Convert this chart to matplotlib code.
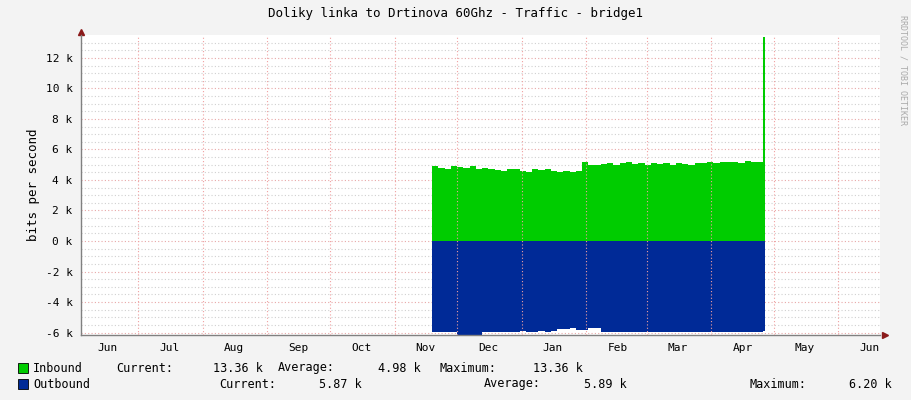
import matplotlib
matplotlib.use("Agg")
import matplotlib.pyplot as plt
import matplotlib.dates as mdates
import numpy as np
import pandas as pd

# ---- data (k bits/s), one sample every 3 days starting 2023-11-19 ----
start_date = "2023-11-19"
inbound = [4.9, 4.8, 4.7, 4.9, 4.85, 4.8, 4.9, 4.75, 4.8, 4.7, 4.65,
           4.6, 4.7, 4.75, 4.6, 4.55, 4.7, 4.65, 4.7, 4.6, 4.55, 4.6, 4.5, 4.6,
           5.2, 5.0, 4.95, 5.05, 5.1, 5.0, 5.1, 5.15, 5.05, 5.1, 5.0, 5.1, 5.05,
           5.1, 5.0, 5.1, 5.05, 5.0, 5.1, 5.1, 5.15, 5.1, 5.2, 5.15, 5.2, 5.1,
           5.25, 5.2, 5.2, 13.36]
outbound = [5.95, 5.95, 5.95, 5.95, 6.2, 6.22, 6.2, 6.15, 5.97, 5.95, 5.95,
            5.95, 5.95, 5.95, 5.93, 5.95, 5.95, 5.9, 5.95, 5.9, 5.75, 5.78, 5.72, 5.8,
            5.85, 5.7, 5.72, 5.95, 5.95, 5.96, 5.95, 5.95, 5.97, 5.95, 5.95, 5.96, 5.95,
            5.95, 5.95, 5.97, 5.95, 5.95, 5.95, 5.96, 5.95, 5.95, 5.95, 5.97, 5.95, 5.95,
            5.95, 5.95, 5.97, 5.87]
months = ["Jun", "Jul", "Aug", "Sep", "Oct", "Nov", "Dec", "Jan", "Feb", "Mar", "Apr", "May", "Jun"]
yticks = [-6, -4, -2, 0, 2, 4, 6, 8, 10, 12]

dates = pd.date_range(start_date, periods=len(inbound), freq="3D")
xs = list(dates) + [dates[-1] + pd.Timedelta(days=1)]
inb = inbound + [inbound[-1]]
outb = [-v for v in outbound] + [-outbound[-1]]

GREEN = "#00CC00"
BLUE = "#002A97"
BG = "#F3F3F3"
mono = "DejaVu Sans Mono"

fig = plt.figure(figsize=(9.11, 4.0), dpi=100, facecolor=BG)
ax = fig.add_axes([81/911, 65/400, 799/911, 300/400])
ax.set_facecolor("white")

ax.fill_between(xs, 0, inb, step="post", color=GREEN, lw=0)
ax.fill_between(xs, 0, outb, step="post", color=BLUE, lw=0)

x0 = pd.Timestamp("2023-06-03 12:00")
x1 = pd.Timestamp("2024-06-21")
ax.set_xlim(x0, x1)
ax.set_ylim(-6.16, 13.5)

# grids
for v in np.arange(-6, 13.5, 0.5):
    major = abs(v / 2 - round(v / 2)) < 1e-9
    ax.axhline(v, color="#E8A8A8" if major else "#D0D0D0", lw=0.8,
               ls=(0, (1, 2)), zorder=0.5)
month_starts = pd.date_range("2023-07-01", "2024-06-01", freq="MS")
for d in month_starts:
    ax.axvline(d, color="#F0A0A0", lw=0.8, ls=(0, (1, 2)), zorder=3)

# ticks
mid = pd.date_range("2023-06-16", periods=len(months), freq="MS") + pd.Timedelta(days=15)
mid = [pd.Timestamp(2023 + (5 + i) // 12, (5 + i) % 12 + 1, 16) for i in range(len(months))]
ax.set_xticks(mid)
ax.set_xticklabels(months, fontfamily=mono, fontsize=8)
ax.set_yticks(yticks)
ax.set_yticklabels([f"{t} k" for t in yticks], fontfamily=mono, fontsize=8)
ax.tick_params(length=0, pad=6)

for s in ["top", "right"]:
    ax.spines[s].set_visible(False)
for s in ["left", "bottom"]:
    ax.spines[s].set_color("#808080")
    ax.spines[s].set_linewidth(1)
ax.plot([0], [1.01], marker="^", color="#8B1A1A", ms=4, transform=ax.transAxes, clip_on=False)
ax.plot([1.006], [0], marker=">", color="#8B1A1A", ms=4, transform=ax.transAxes, clip_on=False)

ax.set_ylabel("bits per second", fontfamily=mono, fontsize=9, labelpad=4)

fig.text(455/911, 1 - 14/400, "Doliky linka to Drtinova 60Ghz - Traffic - bridge1",
         ha="center", va="center", fontfamily=mono, fontsize=9)
fig.text(903/911, 1 - 70/400, "RRDTOOL / TOBI OETIKER", rotation=270, ha="center", va="center",
         fontfamily=mono, fontsize=6, color="#AAAAAA")

def t(x, y, s, ha="left"):
    fig.text(x/911, 1 - y/400, s, ha=ha, va="center", fontfamily=mono, fontsize=8.5)

fig.patches.append(plt.Rectangle((18/911, 1 - 373/400), 10/911, 10/400, facecolor=GREEN,
                                 edgecolor="black", lw=0.6, transform=fig.transFigure))
fig.patches.append(plt.Rectangle((18/911, 1 - 389/400), 10/911, 10/400, facecolor=BLUE,
                                 edgecolor="black", lw=0.6, transform=fig.transFigure))
t(33, 368, "Inbound")
t(116, 368, "Current:")
t(263, 368, "13.36 k", ha="right")
t(278, 368, "Average:")
t(421, 368, "4.98 k", ha="right")
t(439, 368, "Maximum:")
t(583, 368, "13.36 k", ha="right")
t(33, 384, "Outbound")
t(219, 384, "Current:")
t(362, 384, "5.87 k", ha="right")
t(484, 384, "Average:")
t(627, 384, "5.89 k", ha="right")
t(749, 384, "Maximum:")
t(892, 384, "6.20 k", ha="right")

fig.savefig("out.png", dpi=100, facecolor=BG)
